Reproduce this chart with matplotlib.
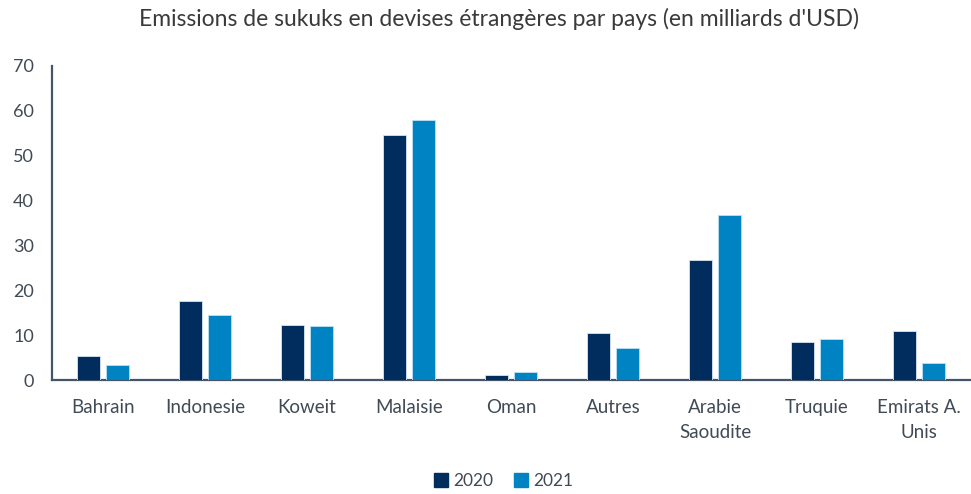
import numpy as np
import matplotlib

matplotlib.use("Agg")
import matplotlib.pyplot as plt
from matplotlib.patches import Patch

CATEGORIES = ["Bahrain", "Indonesie", "Koweit", "Malaisie", "Oman", "Autres",
              "Arabie\nSaoudite", "Truquie", "Emirats A.\nUnis"]
VALUES_2020 = [5.3, 17.6, 12.2, 54.6, 1.1, 10.5, 26.7, 8.5, 10.9]
VALUES_2021 = [3.3, 14.5, 12.0, 57.9, 1.8, 7.1, 36.7, 9.1, 3.8]
SERIES = ["2020", "2021"]
COLORS = ["#002D5E", "#0083C2"]
TITLE = "Emissions de sukuks en devises étrangères par pays (en milliards d'USD)"

plt.rcParams["font.family"] = ["Lato", "DejaVu Sans"]
TEXT = "#404A55"

fig = plt.figure(figsize=(9.71, 4.94), dpi=100)
ax = fig.add_axes([52 / 971, 1 - 380 / 494, 918 / 971, 314 / 494])

x = np.arange(len(CATEGORIES))
width = 0.225
off = 0.14
ax.bar(x - off, VALUES_2020, width, color=COLORS[0], edgecolor="#D6E4F0", linewidth=0.6, zorder=3)
ax.bar(x + off, VALUES_2021, width, color=COLORS[1], edgecolor="#BFE0F2", linewidth=0.6, zorder=3)

ax.set_xlim(-0.5, len(CATEGORIES) - 0.5)
ax.set_ylim(0, 70)
ax.set_yticks(range(0, 71, 10))
ax.set_xticks(x)
ax.set_xticklabels(CATEGORIES, fontsize=13.5, color=TEXT, linespacing=1.55)
ax.tick_params(axis="y", labelsize=13, labelcolor=TEXT, length=0, pad=13)
ax.tick_params(axis="x", length=0, pad=14)

for side in ("top", "right"):
    ax.spines[side].set_visible(False)
ax.spines["left"].set_color("#44546A")
ax.spines["bottom"].set_color("#44546A")
ax.spines["left"].set_linewidth(1.6)
ax.spines["bottom"].set_linewidth(1.6)

fig.text(0.514, 1 - 19 / 494, TITLE, ha="center", va="center", fontsize=16.5, color="#3A3A3A")

handles = [Patch(color=c, label=s) for c, s in zip(COLORS, SERIES)]
fig.legend(handles=handles, loc="center", bbox_to_anchor=(0.519, 1 - 481 / 494), ncol=2,
           frameon=False, fontsize=12.5, handlelength=0.8, handleheight=0.8,
           handletextpad=0.3, columnspacing=1.2, labelcolor=TEXT)

fig.savefig("out.png", dpi=100)
